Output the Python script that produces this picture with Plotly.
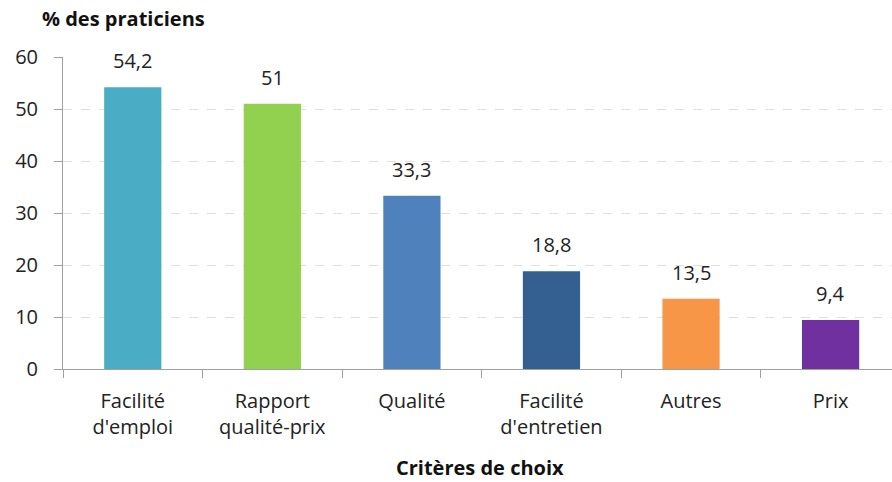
import plotly.graph_objects as go

categories = ["Facilité<br>d'emploi", "Rapport<br>qualité-prix", "Qualité",
              "Facilité<br>d'entretien", "Autres", "Prix"]
values = [54.2, 51, 33.3, 18.8, 13.5, 9.4]
value_labels = ["54,2", "51", "33,3", "18,8", "13,5", "9,4"]
colors = ["#4BACC6", "#92D050", "#4F81BD", "#335F91", "#F79646", "#7030A0"]

font_family = "Open Sans, Noto Sans, sans-serif"
W, H = 892, 482
ML, MT, MB = 63, 57, 113

fig = go.Figure()
fig.add_trace(go.Bar(
    x=categories, y=values,
    marker=dict(color=colors, line=dict(width=0)),
    width=0.41,
))

# data labels above the bars
for cat, v, lab in zip(categories, values, value_labels):
    fig.add_annotation(x=cat, y=v, text=lab, showarrow=False,
                       yanchor="bottom", yshift=11,
                       font=dict(size=20, color="#222222"))

pw = W - ML
ph = H - MT - MB
fig.add_annotation(text="<b>% des praticiens</b>", xref="paper", yref="paper",
                   x=(40 - ML) / pw, y=(H - MB - 18) / ph,
                   showarrow=False, xanchor="left", yanchor="middle",
                   font=dict(size=20, color="#111111"))
fig.add_annotation(text="<b>Critères de choix</b>", xref="paper", yref="paper",
                   x=(480 - ML) / pw, y=(H - MB - 467) / ph,
                   showarrow=False, xanchor="center", yanchor="middle",
                   font=dict(size=20, color="#111111"))

fig.update_layout(
    width=W, height=H,
    margin=dict(l=ML, r=0, t=MT, b=MB),
    plot_bgcolor="white", paper_bgcolor="white",
    showlegend=False,
    font=dict(family=font_family, size=20, color="#222222"),
)

fig.update_xaxes(
    range=[-0.5, 5.44],
    showline=True, linecolor="#A0A0A0", linewidth=1,
    ticks="outside", tickson="boundaries", ticklen=8, tickcolor="#A0A0A0",
    ticklabelstandoff=14,
    tickfont=dict(size=20, color="#222222"),
    showgrid=False,
)
fig.update_yaxes(
    range=[0, 60], dtick=10,
    showline=True, linecolor="#A0A0A0", linewidth=1,
    ticks="outside", ticklen=8, tickcolor="#A0A0A0",
    ticklabelstandoff=12,
    tickfont=dict(size=20, color="#222222"),
    showgrid=True, gridcolor="#DEDEDE", griddash="dash", gridwidth=1,
    zeroline=False,
)

fig.write_html("out.html", config={"displayModeBar": False},
               post_script="document.body.style.margin='0';")
